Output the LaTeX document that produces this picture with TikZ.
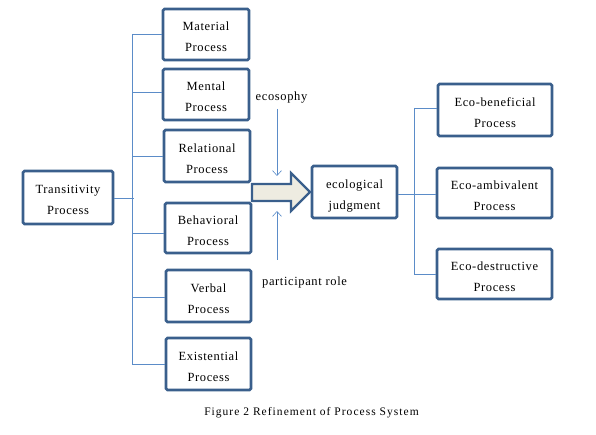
\documentclass[tikz,border=0pt]{standalone}
\usepackage{fontspec}
\setmainfont{Liberation Serif}[LetterSpace=5]
\newfontfamily\capfont{Liberation Serif}[LetterSpace=9]
\usetikzlibrary{arrows.meta}
\definecolor{boxblue}{HTML}{3A5F8C}
\definecolor{lineblue}{HTML}{5B8CC8}
\definecolor{arrowfill}{HTML}{EEECE1}
\newcommand\toprl{\rule{0pt}{17pt}}
\newcommand\botrl{\rule[-3pt]{0pt}{3pt}}
\newcommand\twolines[2]{\toprl#1\\#2\botrl}
\tikzset{
  pbox/.style={draw=boxblue, line width=2.7pt, rounded corners=1.5pt, fill=white,
    align=center, font=\fontsize{12.5}{21}\selectfont, inner sep=0pt},
  conn/.style={draw=lineblue, line width=0.9pt},
  thinarr/.style={draw=lineblue, line width=0.6pt, -{Straight Barb[length=5pt,width=9pt]}},
  lbl/.style={font=\fontsize{12.5}{14}\selectfont, inner sep=0pt}
}
\begin{document}
\begin{tikzpicture}[x=1pt,y=-1pt]
\useasboundingbox (0,0) rectangle (596,435);
% left boxes
\node[pbox, minimum width=86pt, minimum height=51pt] (mat) at (206,34.5) {\twolines{Material}{Process}};
\node[pbox, minimum width=86pt, minimum height=51pt] (men) at (206,94.5) {\twolines{Mental}{Process}};
\node[pbox, minimum width=86pt, minimum height=52pt] (rel) at (207,156) {\twolines{Relational}{Process}};
\node[pbox, minimum width=86pt, minimum height=50pt] (beh) at (208,228) {\twolines{Behavioral}{Process}};
\node[pbox, minimum width=85pt, minimum height=52pt] (ver) at (208.5,296) {\twolines{Verbal}{Process}};
\node[pbox, minimum width=85pt, minimum height=52pt] (exi) at (208.5,364) {\twolines{Existential}{Process}};
\node[pbox, minimum width=90pt, minimum height=53pt] (tra) at (68,197.5) {\twolines{Transitivity}{Process}};
% bracket
\coordinate (b1) at (132,34);
\coordinate (b2) at (132,364);
\coordinate (bt) at (134,198);
\draw[conn] (b1) -- (b2);
\draw[conn] (tra.east |- bt) -- (bt);
\draw[conn] (b1) -- (mat.west |- b1);
\draw[conn] (132,92) -- (men.west |- 0,92);
\draw[conn] (132,156) -- (rel.west |- 0,156);
\draw[conn] (132,233) -- (beh.west |- 0,233);
\draw[conn] (132,297) -- (ver.west |- 0,297);
\draw[conn] (b2) -- (exi.west |- b2);
% judgment
\node[pbox, minimum width=85pt, minimum height=52pt] (eco) at (354.5,192) {\twolines{ecological}{judgment}};
% block arrow
\draw[draw=boxblue, line width=2.2pt, fill=arrowfill, line join=miter]
  (252,184) -- (291,184) -- (291,173) -- (310,192) -- (291,211) -- (291,201) -- (252,201) -- cycle;
% ecosophy / participant role
\node[lbl, anchor=base] (eso) at (281.5,101) {ecosophy};
\node[lbl, anchor=base] (par) at (304.5,285) {participant role};
\coordinate (e1) at (277,109);
\coordinate (e2) at (277,176);
\coordinate (p1) at (277,260);
\coordinate (p2) at (277,211);
\draw[thinarr] (e1) -- (e2);
\draw[thinarr] (p1) -- (p2);
% right boxes
\node[pbox, minimum width=114pt, minimum height=52pt] (ben) at (495,110) {\twolines{Eco-beneficial}{Process}};
\node[pbox, minimum width=115pt, minimum height=50pt] (amb) at (494.5,193) {\twolines{Eco-ambivalent}{Process}};
\node[pbox, minimum width=115pt, minimum height=50pt] (des) at (494.5,274) {\twolines{Eco-destructive}{Process}};
\coordinate (r1) at (414,108);
\coordinate (r2) at (414,274);
\draw[conn] (r1) -- (r2);
\draw[conn] (eco.east |- 0,194) -- (amb.west |- 0,194);
\draw[conn] (r1) -- (ben.west |- r1);
\draw[conn] (r2) -- (des.west |- r2);
% caption
\node[font=\capfont\fontsize{11.5}{13}\selectfont, anchor=base, inner sep=0pt] (cap) at (311.5,415) {Figure 2 Refinement of Process System};
\end{tikzpicture}
\end{document}
